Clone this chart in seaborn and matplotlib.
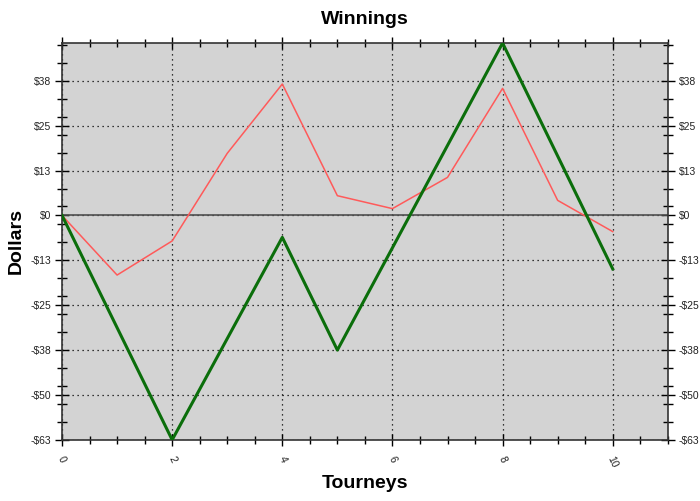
import math

import matplotlib
matplotlib.use("Agg")
import matplotlib.pyplot as plt
from matplotlib.ticker import MultipleLocator, FuncFormatter
import pandas as pd
import seaborn as sns

# values
tourneys = [0, 1, 2, 3, 4, 5, 6, 7, 8, 9, 10]
red_dollars = [0, -16.6, -7.1, 17.3, 36.6, 5.5, 1.9, 10.6, 35.4, 4.2, -4.5]
green_tourneys = [0, 2, 4, 5, 8, 10]
green_dollars = [0, -62.5, -6.1, -37.5, 48.0, -14.9]

df_red = pd.DataFrame({"Tourneys": tourneys, "Dollars": red_dollars})
df_green = pd.DataFrame({"Tourneys": green_tourneys, "Dollars": green_dollars})

plt.rcParams["font.family"] = ["Liberation Sans", "DejaVu Sans"]

fig = plt.figure(figsize=(7, 5.01), dpi=100)
ax = fig.add_axes([0.0886, 0.122, 0.8654, 0.792])
ax.set_facecolor("#d3d3d3")

sns.lineplot(data=df_red, x="Tourneys", y="Dollars", color="#ff5a5a",
             linewidth=1.1, ax=ax, zorder=3)
sns.lineplot(data=df_green, x="Tourneys", y="Dollars", color="#0b6e0b",
             linewidth=2.2, ax=ax, zorder=4)

ax.axhline(0, color="#505050", linewidth=1.2, zorder=2)

ax.set_xlim(0, 11)
ax.set_ylim(min(green_dollars), max(green_dollars))

ax.xaxis.set_major_locator(MultipleLocator(2))
ax.xaxis.set_minor_locator(MultipleLocator(0.5))
ax.yaxis.set_major_locator(MultipleLocator(12.5))
ax.yaxis.set_minor_locator(MultipleLocator(5, offset=2.5))


def dollars(v, pos):
    n = int(math.floor(abs(v) + 0.5))
    return f"-${n}" if v < -1e-9 else f"${n}"


ax.yaxis.set_major_formatter(FuncFormatter(dollars))

ax.grid(True, which="major", color="black", linestyle=(0, (1, 3)),
        linewidth=0.9, zorder=1)
ax.set_axisbelow(True)

ax.tick_params(axis="y", which="major", direction="inout", length=10,
               width=1, left=True, right=True, labelleft=True,
               labelright=True, labelsize=7.5, labelcolor="#222222", pad=3)
ax.tick_params(axis="y", which="minor", direction="inout", length=7,
               width=1, left=True, right=True)
ax.tick_params(axis="x", which="major", direction="inout", length=9,
               width=1, top=True, bottom=True, labelsize=7.5,
               labelcolor="#222222", labelrotation=-65, pad=6)
ax.tick_params(axis="x", which="minor", direction="inout", length=6,
               width=1, top=True, bottom=True)

for s in ax.spines.values():
    s.set_color("#333333")
    s.set_linewidth(1.2)

ax.set_title("Winnings", fontsize=14, fontweight="bold", pad=14)
ax.set_xlabel("Tourneys", fontsize=14, fontweight="bold", labelpad=4)
ax.set_ylabel("Dollars", fontsize=14, fontweight="bold", labelpad=4)

fig.savefig("out.png", dpi=100)
